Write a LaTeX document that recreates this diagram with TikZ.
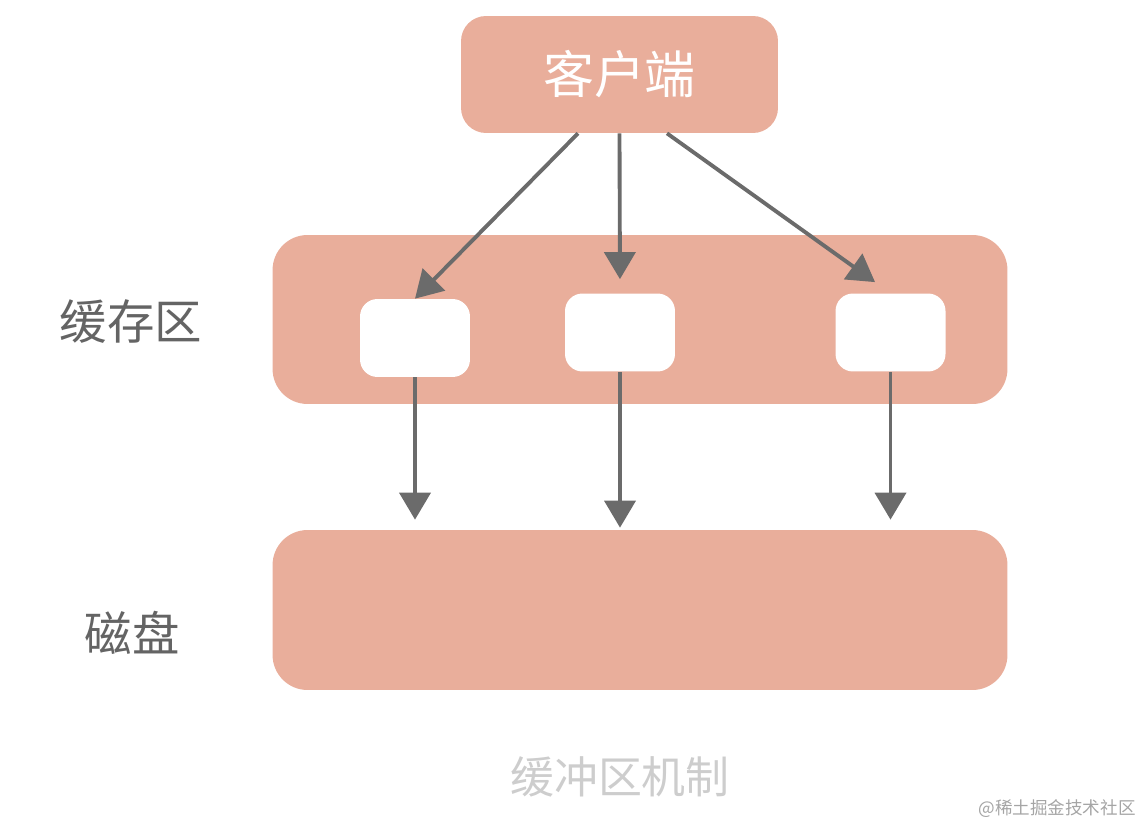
\documentclass[tikz,border=0pt]{standalone}
\usepackage{fontspec}
\newfontfamily\cjk{Noto Sans CJK SC}
\usepackage{xcolor}
\usetikzlibrary{arrows.meta, positioning}

\definecolor{salmon}{RGB}{233,174,155}
\definecolor{arrowgray}{RGB}{107,107,107}
\definecolor{labelgray}{RGB}{100,100,100}
\definecolor{titlegray}{RGB}{205,205,205}
\definecolor{markgray}{RGB}{165,165,165}

\begin{document}
\begin{tikzpicture}[
    x=0.02cm, y=-0.02cm,
    band/.style={rectangle, rounded corners=0.7cm, fill=salmon, inner sep=0pt, minimum width=14.7cm},
    client/.style={rectangle, rounded corners=0.5cm, fill=salmon, inner sep=0pt, minimum width=6.34cm, minimum height=2.34cm, text=white, font=\cjk\fontsize{29}{32}\selectfont},
    slot/.style={rectangle, rounded corners=0.35cm, fill=white, inner sep=0pt, minimum width=2.2cm, minimum height=1.56cm},
    label/.style={text=labelgray, font=\cjk\fontsize{27}{30}\selectfont},
    arrow/.style={-{Triangle[length=0.54cm, width=0.62cm]}, line width=2.2pt, draw=arrowgray, fill=arrowgray}
]
\useasboundingbox (0,0) rectangle (1142,827);

% client and the two bands
\node[client] (client) at (619.5,74.5) {客户端};
\node[band, minimum height=3.38cm] (cache) at (640,319.5) {};
\node[band, minimum height=3.2cm] (disk) at (640,610) {};

% cache slots
\node[slot] (box1) at (415,338) {};
\node[slot] (box2) at (620,332.5) {};
\node[slot] (box3) at (890.5,332.5) {};

% side labels
\node[label] (cachelabel) at (131,322) {缓存区};
\node[label] (disklabel) at (132,633) {磁盘};

% caption and mark
\node[text=titlegray, font=\cjk\fontsize{25}{28}\selectfont] (title) at (620,777) {缓冲区机制};
\node[text=markgray, font=\cjk\fontsize{10}{12}\selectfont] (mark) at (1057,809) {@稀土掘金技术社区};

% writes into the cache
\draw[arrow] ([xshift=-0.83cm]client.south) -- (box1.north);
\draw[arrow, shorten >=0.28cm] (client.south) -- (box2.north);
\draw[arrow, shorten >=0.38cm] ([xshift=0.95cm]client.south) -- (box3.north);

% flush to disk
\draw[arrow, shorten >=0.2cm] (box1.south) -- (box1.south |- disk.north);
\draw[arrow, shorten >=0.04cm] (box2.south) -- (box2.south |- disk.north);
\draw[arrow, shorten >=0.2cm] (box3.south) -- (box3.south |- disk.north);

\end{tikzpicture}
\end{document}
